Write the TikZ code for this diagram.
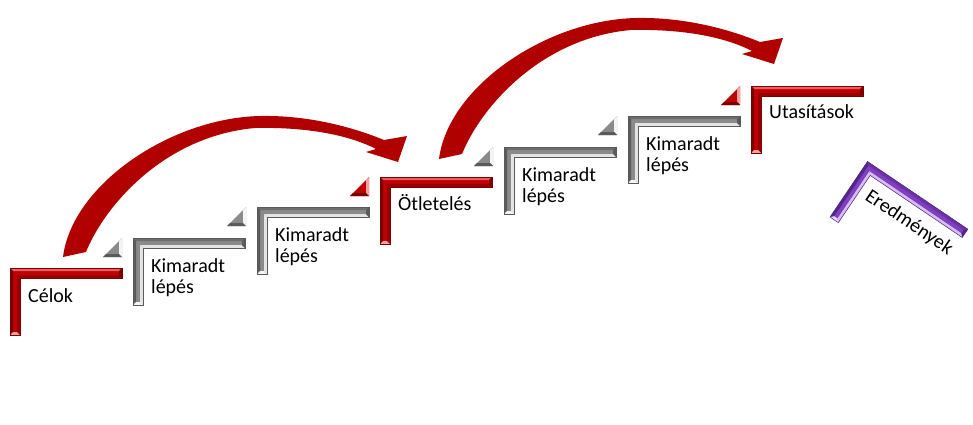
\documentclass[tikz,border=0pt]{standalone}
\usepackage{fontspec}
\setmainfont{Carlito}
\definecolor{redM}{HTML}{C00000}
\definecolor{redT}{HTML}{E8605F}
\definecolor{redD}{HTML}{7A0000}
\definecolor{redI}{HTML}{960000}
\definecolor{redE}{HTML}{F4A0A0}
\definecolor{grayM}{HTML}{8A8A8A}
\definecolor{grayT}{HTML}{6E6E6E}
\definecolor{grayD}{HTML}{5A5A5A}
\definecolor{grayI}{HTML}{E4E4E4}
\definecolor{grayE}{HTML}{F4F4F4}
\definecolor{vioM}{HTML}{8040C0}
\definecolor{vioT}{HTML}{6A32A4}
\definecolor{vioD}{HTML}{52278A}
\definecolor{vioI}{HTML}{D6BEF0}
\definecolor{vioE}{HTML}{E8DAF7}
\definecolor{arrowred}{HTML}{B00000}
\tikzset{steptext/.style={font=\fontsize{20}{21}\selectfont,inner sep=0pt,anchor=base west,align=left},
	 bigarrow/.style={fill=arrowred},
	 pics/stepbar/.style args={#1/#2}{code={
	   \fill[#1M] (0,0) -- (#2,0) -- (#2,10) -- (10,10) -- (10,67) -- (0,67) -- cycle;
	   \fill[#1T] (0,0) -- (#2,0) -- (#2-3,3) -- (3,3) -- cycle;
	   \fill[#1D] (0,0) -- (3,3) -- (3,64) -- (0,67) -- cycle;
	   \fill[#1I] (10,10) -- (#2,10) -- (#2-3,7) -- (7,7) -- cycle;
	   \fill[#1I] (10,10) -- (7,7) -- (7,64) -- (10,67) -- cycle;
	   \fill[#1D] (#2,0) -- (#2,10) -- (#2-3,7) -- (#2-3,3) -- cycle;
	   \fill[#1E] (0,67) -- (10,67) -- (7,64) -- (3,64) -- cycle;
	   \draw[#1D,line width=0.5] (0,0) -- (#2,0) -- (#2,10) -- (10,10) -- (10,67) -- (0,67) -- cycle;
	 }},
	 pics/stepcorner/.style={code={
	   \fill[#1M] (-30,19) -- (-11,19) -- (-11,0) -- cycle;
	   \fill[#1E] (-11,0) -- (-11,19) -- (-14,16) -- (-14,3) -- cycle;
	   \fill[#1D] (-30,19) -- (-11,19) -- (-14,16) -- (-27,16) -- cycle;
	 }}
	 }

\begin{document}
\begin{tikzpicture}[x=1pt,y=-1pt]
        \useasboundingbox (0,0) rectangle (973,424);
        % big curved arrows
        \fill[bigarrow] (63,257) .. controls (72,185) and (170,118) .. (260,116)
            .. controls (310,115) and (355,128) .. (384,140) -- (407,136) -- (398,162) -- (366,152)
            -- (376,149) .. controls (345,133) and (300,127) .. (255,128)
            .. controls (165,136) and (105,205) .. (86,252) -- cycle;
        \fill[bigarrow,shift={(376,-98)}] (63,257) .. controls (72,185) and (170,118) .. (260,116)
            .. controls (310,115) and (355,128) .. (384,140) -- (407,136) -- (398,162) -- (366,152)
            -- (376,149) .. controls (345,133) and (300,127) .. (255,128)
            .. controls (165,136) and (105,205) .. (86,252) -- cycle;
        % steps
        \pic at (10,268) {stepbar=red/112};
        \pic at (133,238) {stepcorner=gray};
        \pic at (133,238) {stepbar=gray/112};
        \pic at (257,207) {stepcorner=gray};
        \pic at (257,207) {stepbar=gray/112};
        \pic at (380,177) {stepcorner=red};
        \pic at (380,177) {stepbar=red/112};
        \pic at (504,147) {stepcorner=gray};
        \pic at (504,147) {stepbar=gray/112};
        \pic at (628,116) {stepcorner=gray};
        \pic at (628,116) {stepbar=gray/112};
        \pic at (751,86) {stepcorner=red};
        \pic at (751,86) {stepbar=red/112};
        % texts (two-line ones sit on their last line)
        \node[steptext] (celok) at (28,302) {Célok};
        \node[steptext] (kim1) at (151,293) {Kimaradt\\lépés};
        \node[steptext] (kim2) at (275,262) {Kimaradt\\lépés};
        \node[steptext] (otlet) at (398,210) {Ötletelés};
        \node[steptext] (kim3) at (522,202) {Kimaradt\\lépés};
        \node[steptext] (kim4) at (646,171) {Kimaradt\\lépés};
        \node[steptext] (utas) at (769,118) {Utasítások};
        % last step, tilted
        \begin{scope}[shift={(867.5,161.5)},rotate=-34]
          \pic[transform shape] at (0,0) {stepbar=vio/121};
          \node[steptext,rotate=-34] (eredm) at (18,33) {Eredmények};
        \end{scope}
     \end{tikzpicture}
\end{document}
